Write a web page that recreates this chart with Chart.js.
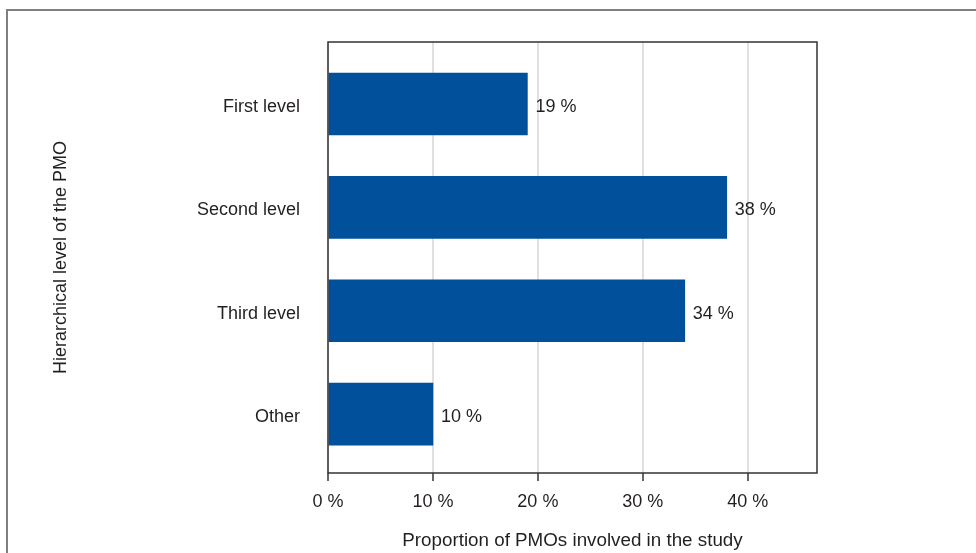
<!DOCTYPE html>
<html>
<head>
<meta charset="utf-8">
<script src="https://cdn.jsdelivr.net/npm/chart.js@4/dist/chart.umd.min.js"></script>
<style>
  html, body { margin: 0; padding: 0; background: #ffffff; }
  #wrap { position: relative; width: 976px; height: 553px; overflow: hidden; }
  #frame { position: absolute; left: 6px; top: 9px; width: 1200px; height: 800px;
           border-left: 2px solid #7f7f7f; border-top: 2px solid #7f7f7f; }
  #chart { position: absolute; left: 0; top: 0; }
</style>
</head>
<body>
<div id="wrap">
  <div id="frame"></div>
  <canvas id="chart" width="976" height="553"></canvas>
</div>
<script>
// Hierarchical level of PMOs in the study, share in percent
const categories = ['First level', 'Second level', 'Third level', 'Other'];
const shares = [19, 38, 34, 10];
const xTicks = [0, 10, 20, 30, 40];

const TEXT = '#231f20';
const FAMILY = "'Liberation Sans', Arial, sans-serif";
const FONT = { family: FAMILY, size: 18 };

// Box around the plotting area
const plotFrame = {
  id: 'plotFrame',
  afterDatasetsDraw(chart) {
    const { ctx, chartArea: a } = chart;
    ctx.save();
    ctx.strokeStyle = '#333333';
    ctx.lineWidth = 1.5;
    ctx.strokeRect(a.left, a.top, a.right - a.left, a.bottom - a.top);
    ctx.restore();
  }
};

// Percentage labels to the right of each bar
const valueLabels = {
  id: 'valueLabels',
  afterDatasetsDraw(chart) {
    const { ctx } = chart;
    const meta = chart.getDatasetMeta(0);
    ctx.save();
    ctx.fillStyle = TEXT;
    ctx.font = `${FONT.size}px ${FONT.family}`;
    ctx.textAlign = 'left';
    ctx.textBaseline = 'middle';
    meta.data.forEach((bar, i) => {
      ctx.fillText(shares[i] + ' %', bar.x + 8, bar.y + 3);
    });
    ctx.restore();
  }
};

new Chart(document.getElementById('chart'), {
  type: 'bar',
  data: {
    datasets: [{
      data: shares.map((v, i) => ({ x: v, y: i })),
      backgroundColor: '#00509b',
      borderWidth: 0,
      barThickness: 62
    }]
  },
  options: {
    indexAxis: 'y',
    responsive: false,
    animation: false,
    layout: { padding: { top: 42, right: 159, left: 0, bottom: 0 } },
    plugins: { legend: { display: false }, tooltip: { enabled: false } },
    scales: {
      x: {
        type: 'linear',
        min: 0,
        max: 46.6,
        afterBuildTicks(scale) { scale.ticks = xTicks.map(v => ({ value: v })); },
        afterFit(scale) { scale.height = 80; },
        grid: {
          color: '#e0e0e0',
          lineWidth: 2,
          tickColor: '#333333',
          tickLength: 8,
          tickWidth: 1.5
        },
        border: { display: false },
        ticks: {
          color: TEXT,
          font: FONT,
          padding: 10,
          callback: v => v + ' %'
        },
        title: {
          display: true,
          text: 'Proportion of PMOs involved in the study',
          color: TEXT,
          font: { family: FAMILY, size: 18.8 },
          padding: { top: 0, bottom: 1 }
        }
      },
      y: {
        type: 'linear',
        reverse: true,
        offset: false,
        bounds: 'data',
        min: -0.6,
        max: 3.57,
        afterBuildTicks(scale) { scale.ticks = categories.map((_, i) => ({ value: i })); },
        afterFit(scale) { scale.width = 328; },
        grid: { display: false, offset: false },
        border: { display: false },
        ticks: {
          color: TEXT,
          font: FONT,
          padding: 20,
          labelOffset: 3,
          callback: v => categories[v]
        },
        title: {
          display: true,
          text: 'Hierarchical level of the PMO',
          color: TEXT,
          font: FONT,
          padding: { top: 50, bottom: 0 }
        }
      }
    }
  },
  plugins: [plotFrame, valueLabels]
});
</script>
</body>
</html>
